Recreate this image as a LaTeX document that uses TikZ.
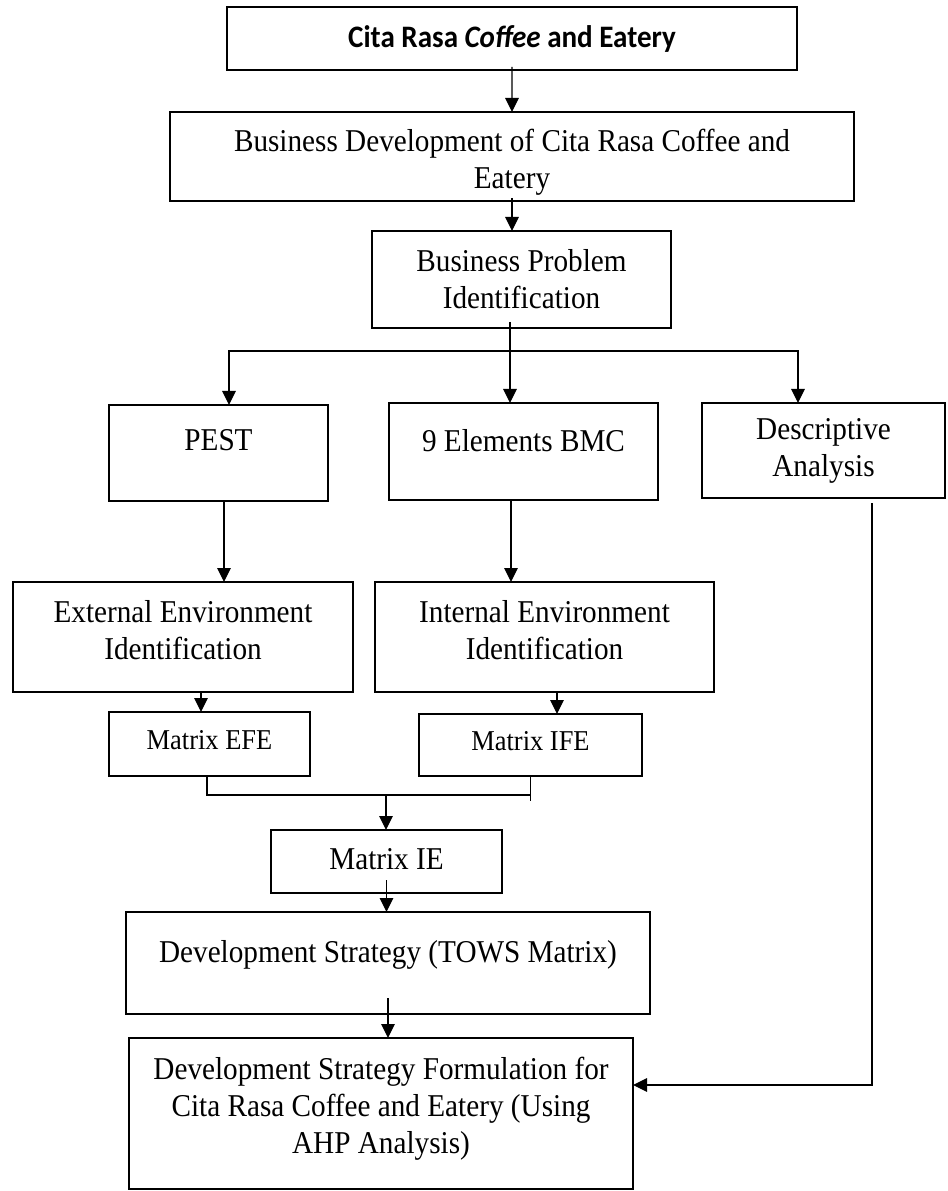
\documentclass[tikz,border=0pt]{standalone}
\usepackage{fontspec}
\setmainfont{Liberation Serif}[FakeStretch=0.92]
\newfontfamily\calibri{Carlito}[FakeStretch=0.93]
\usetikzlibrary{arrows.meta}
\newcommand{\dropline}[1]{\rule[-#1]{0pt}{#1}}
\newcommand{\topline}[1]{\rule{0pt}{#1}}

\begin{document}
\begin{tikzpicture}[x=0.4pt, y=-0.4pt]
    \tikzstyle{box} = [rectangle, draw=black, line width=0.9pt, align=center,
        anchor=north west, inner sep=2pt, outer sep=0pt,
        font=\fontsize{12.7}{14.8}\selectfont]
    \tikzstyle{smallbox} = [box, font=\fontsize{11.5}{13}\selectfont]
    \tikzstyle{arrow} = [-{Triangle[length=5.6pt, width=5.4pt]}, line width=0.5pt]
    \tikzstyle{link} = [line width=0.5pt]

    \useasboundingbox (0,0) rectangle (947,1191);

    \node(title) [box, minimum width=228pt, minimum height=25.2pt,
        font=\calibri\bfseries\fontsize{12.5}{14}\selectfont]
        at (227,7)
        {Cita Rasa \textit{Coffee} and Eatery};
    \node(bizdev) [box, minimum width=273.6pt, minimum height=35.2pt]
        at (170,112)
        {\topline{14pt}Business Development of Cita Rasa Coffee and\\ Eatery};
    \node(problem) [box, minimum width=119.6pt, minimum height=38.8pt]
        at (372,231)
        {Business Problem\\ Identification};

    \node(pest) [box, minimum width=87.6pt, minimum height=38.4pt]
        at (109,405)
        {PEST\dropline{10.4pt}};
    \node(bmc) [box, minimum width=107.6pt, minimum height=38.8pt]
        at (389,403)
        {9 Elements BMC\dropline{8.8pt}};
    \node(descriptive) [box, minimum width=97.2pt, minimum height=38pt]
        at (702,403)
        {Descriptive\\ Analysis};

    \node(external) [box, minimum width=136pt, minimum height=44pt]
        at (13,582)
        {External Environment\\ Identification\dropline{6pt}};
    \node(internal) [box, minimum width=135.6pt, minimum height=44pt]
        at (375,582)
        {Internal Environment\\ Identification\dropline{6pt}};
    \node(efe) [smallbox, minimum width=80.4pt, minimum height=25.6pt]
        at (109,712)
        {Matrix EFE\dropline{3.2pt}};
    \node(ife) [smallbox, minimum width=89.2pt, minimum height=24.8pt]
        at (419,714)
        {Matrix IFE\dropline{3.2pt}};

    \node(ie) [box, minimum width=92.4pt, minimum height=25.2pt]
        at (271,830)
        {Matrix IE\dropline{2pt}};
    \node(tows) [box, minimum width=209.6pt, minimum height=40.8pt]
        at (126,912)
        {Development Strategy (TOWS Matrix)\dropline{9.1pt}};
    \node(formulation) [box, minimum width=201.6pt, minimum height=60.4pt]
        at (129,1038)
        {Development Strategy Formulation for\\ Cita Rasa Coffee and Eatery (Using\\
        AHP Analysis)\dropline{6.7pt}};

    \coordinate (split) at (510,351);
    \coordinate (join) at (386,795);

    \draw[arrow] ([yshift=1.2pt]title.south) -- (bizdev.north);
    \draw[arrow] ([yshift=1.2pt]bizdev.south) -- (bizdev.south |- problem.north);
    \draw[arrow] ([yshift=2.4pt]problem.south -| split) -- (bmc.north -| split);
    \draw[arrow] (split) -| ([xshift=4.2pt]pest.north);
    \draw[arrow] (split) -| ([xshift=-10.2pt]descriptive.north);

    \draw[arrow] ([xshift=2.2pt]pest.south) -- ([xshift=2.2pt]pest.south |- external.north);
    \draw[arrow] ([xshift=-5pt]bmc.south) -- ([xshift=-5pt]bmc.south |- internal.north);
    \draw[arrow] ([xshift=-3.4pt]efe.north |- external.south) -- ([xshift=-3.4pt]efe.north);
    \draw[arrow] ([xshift=10.6pt]ife.north |- internal.south) -- ([xshift=10.6pt]ife.north);

    \draw[link] ([xshift=-1pt]efe.south) |- (join);
    \draw[link] (join) -- (ife.south |- join);
    \draw[link] (ife.south) -- ([yshift=-10pt]ife.south);
    \draw[arrow] (join) -- (ie.north -| join);

    \draw[arrow] ([yshift=5.2pt]ie.south) -- (ie.south |- tows.north);
    \draw[arrow] ([yshift=6.4pt]tows.south) -- (tows.south |- formulation.north);
    \draw[arrow] ([xshift=19.4pt, yshift=-2pt]descriptive.south)
        |- ([yshift=11.4pt]formulation.east);
\end{tikzpicture}
\end{document}
